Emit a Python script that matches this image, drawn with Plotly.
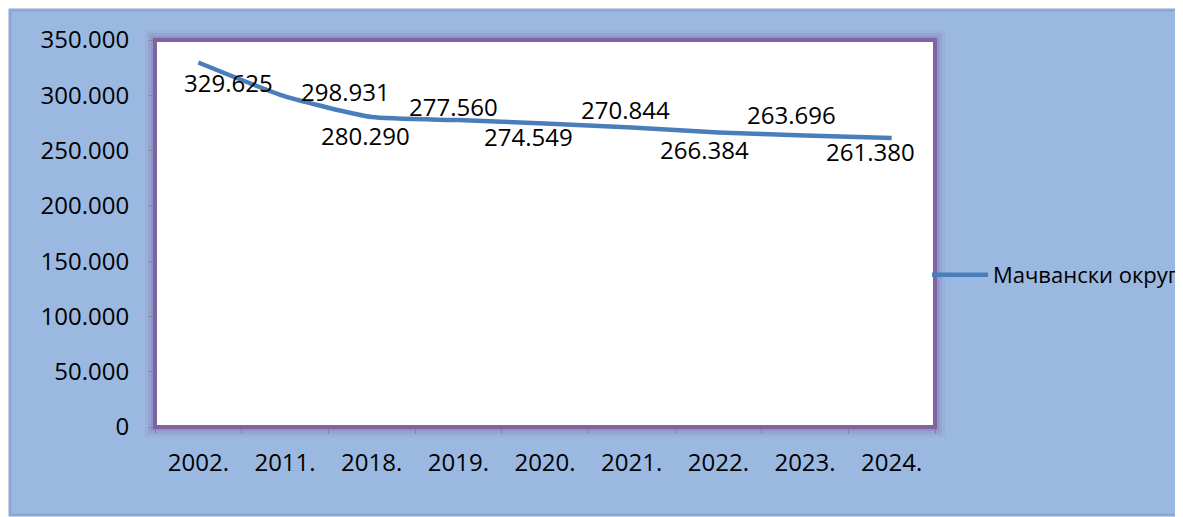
import plotly.graph_objects as go

years = ["2002.", "2011.", "2018.", "2019.", "2020.", "2021.", "2022.", "2023.", "2024."]
population = [329625, 298931, 280290, 277560, 274549, 270844, 266384, 263696, 261380]
series_name = "Мачвански округ"
y_ticks = [0, 50000, 100000, 150000, 200000, 250000, 300000, 350000]

# label offsets in px (style only)
label_dx = [30, 60, -6, -5, -17, -6, -14, -14, -21]
label_dy = [-20, 5, -18, 14, -13, 18, -17, 21, -14]

OFF = 8  # page body margin
W, H = 1183 - OFF, 517 - OFF
L, T = 155 - OFF, 40 - OFF
pw, ph = 780, 387
R, B = W - L - pw, H - T - ph

def px(x):  # reference-page x -> paper
    return (x - OFF - L) / pw

def py(y):  # reference-page y -> paper
    return (T + ph - (y - OFF)) / ph

FONT = "Open Sans"
fs = 24

fig = go.Figure()
fig.add_trace(go.Scatter(
    x=years, y=population, mode="lines", name=series_name,
    line=dict(color="#4A7EBB", width=4.5, shape="spline", smoothing=0.5),
    hoverinfo="x+y",
))

for i, v in enumerate(population):
    fig.add_annotation(
        x=i, y=v, xref="x", yref="y", text=f"{v:,}".replace(",", "."), showarrow=False,
        xshift=label_dx[i], yshift=label_dy[i],
        font=dict(family=FONT, size=fs, color="black"),
    )

shapes = []
# outer chart area
shapes.append(dict(type="rect", xref="paper", yref="paper", layer="below",
                   x0=px(10), x1=px(1195), y0=py(515), y1=py(10),
                   fillcolor="#9BB9E0", line=dict(color="#8AA8D4", width=3)))
# purple glow around plot area
for d, op in [(10, 0.10), (7, 0.15), (4, 0.22)]:
    shapes.append(dict(type="rect", xref="paper", yref="paper", layer="below",
                       x0=-d / pw, x1=1 + d / pw, y0=-d / ph, y1=1 + d / ph,
                       fillcolor="#8064A2", opacity=op, line=dict(width=0)))
# white plot area
shapes.append(dict(type="rect", xref="paper", yref="paper", layer="below",
                   x0=0, x1=1, y0=0, y1=1, fillcolor="white", line=dict(width=0)))
# purple border
shapes.append(dict(type="rect", xref="paper", yref="paper", layer="above",
                   x0=0, x1=1, y0=0, y1=1,
                   fillcolor="rgba(0,0,0,0)", line=dict(color="#8064A2", width=4)))
fig.update_layout(shapes=shapes)

fig.update_layout(
    width=W, height=H,
    margin=dict(l=L, r=R, t=T, b=B, pad=0, autoexpand=False),
    paper_bgcolor="white",
    plot_bgcolor="rgba(0,0,0,0)",
    separators=",.",
    font=dict(family=FONT, size=fs, color="black"),
    showlegend=True,
    legend=dict(x=px(927), y=py(275), xanchor="left", yanchor="middle",
                bgcolor="rgba(0,0,0,0)", font=dict(family=FONT, size=22, color="black"),
                itemwidth=56),
    xaxis=dict(type="category", range=[-0.5, len(years) - 0.5],
               showgrid=False, zeroline=False, showline=True, linecolor="#868686", linewidth=1,
               ticks="outside", tickson="boundaries", ticklen=6, tickcolor="#868686",
               ticklabelstandoff=14, tickfont=dict(family=FONT, size=fs, color="black")),
    yaxis=dict(range=[0, 350000], tickvals=y_ticks, tickformat=",d",
               showgrid=False, zeroline=False, showline=True, linecolor="#868686", linewidth=1,
               ticks="outside", ticklen=5, tickcolor="#868686",
               ticklabelstandoff=15, tickfont=dict(family=FONT, size=fs, color="black")),
)

fig.write_html("out.html")
